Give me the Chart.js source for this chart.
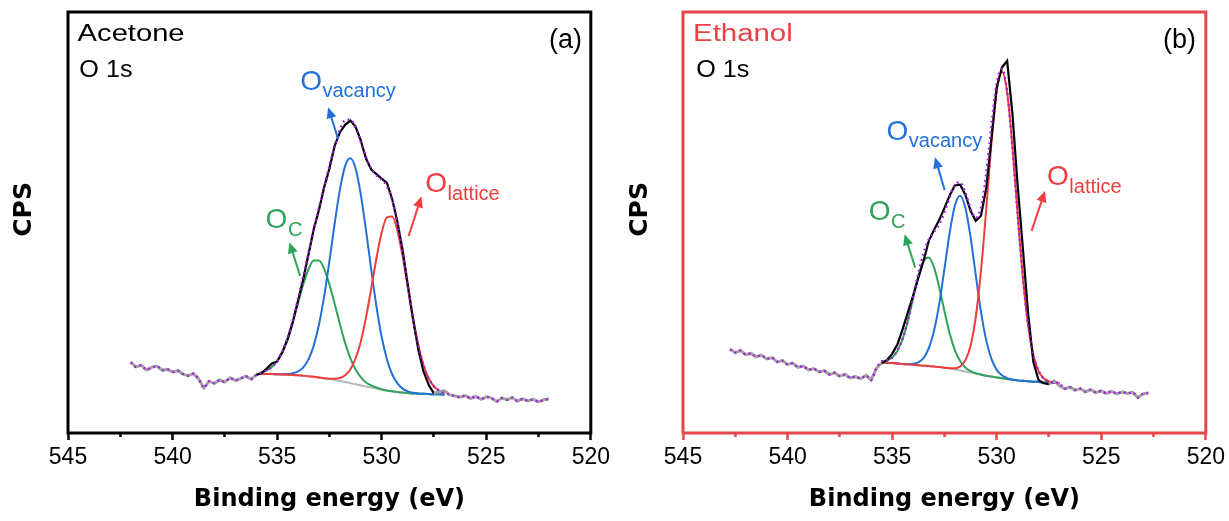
<!DOCTYPE html>
<html lang="en">
<head>
<meta charset="UTF-8">
<title>O 1s XPS - Acetone / Ethanol</title>
<script src="https://cdn.jsdelivr.net/npm/chart.js"></script>
<style>
    body { margin: 0; background: #fff; }
    .wrap { display: flex; width: 1229px; height: 521px; }
    .panel { position: relative; height: 521px; }
    #pa { width: 614px; }
    #pb { width: 615px; }
</style>
</head>
<body>
<div class="wrap">
    <div class="panel" id="pa"><canvas id="chartA"></canvas></div>
    <div class="panel" id="pb"><canvas id="chartB"></canvas></div>
</div>
<script>
// binding energy channels (eV) of the measured spectra
const energies = [
    542.75, 542.5, 542.25, 542, 541.75, 541.5, 541.25, 541, 540.75, 540.5,
    540.25, 540, 539.75, 539.5, 539.25, 539, 538.75, 538.5, 538.25, 538,
    537.75, 537.5, 537.25, 537, 536.75, 536.5, 536.25, 536, 535.75, 535.5,
    535.25, 535, 534.75, 534.5, 534.25, 534, 533.75, 533.5, 533.25, 533,
    532.75, 532.5, 532.25, 532, 531.75, 531.5, 531.25, 531, 530.75, 530.5,
    530.25, 530, 529.75, 529.5, 529.25, 529, 528.75, 528.5, 528.25, 528,
    527.75, 527.5, 527.25, 527, 526.75, 526.5, 526.25, 526, 525.75, 525.5,
    525.25, 525, 524.75, 524.5, 524.25, 524, 523.75, 523.5, 523.25, 523,
    522.75, 522.5, 522.25, 522
];
const majorTicks = [545, 540, 535, 530, 525, 520];

// (a) Acetone - raw counts (arb. units)
const rawA = [
    null, null, null, 16.8, 15.7, 16.1, 15.0, 15.6, 15.9, 14.9,
    15.1, 14.5, 14.8, 14.0, 13.6, 14.1, 12.8, 10.7, 12.3, 11.8,
    12.6, 12.1, 13.1, 12.5, 12.9, 13.5, 12.8, 13.8, 14.2, 15.3,
    16.5, 17.0, 19.2, 22.2, 26.4, 31.4, 36.6, 42.4, 48.4, 53.0,
    58.4, 62.8, 68.2, 71.4, 73.2, 74.2, 72.8, 69.5, 65.2, 62.6,
    61.5, 60.4, 59.4, 55.6, 50.2, 43.5, 35.2, 27.0, 19.8, 14.6,
    11.4, 9.4, 9.8, 10.0, 9.1, 8.8, 8.5, 8.9, 8.2, 8.7,
    8.0, 8.6, 8.3, 7.5, 8.3, 7.9, 8.4, 7.6, 8.1, 7.6,
    8.0, 7.4, 7.9, 8.1
];
// (a) fitted region
const fitEA = [
    535.75, 535.5, 535.25, 535, 534.75, 534.5, 534.25, 534, 533.75, 533.5,
    533.25, 533, 532.75, 532.5, 532.25, 532, 531.75, 531.5, 531.25, 531,
    530.75, 530.5, 530.25, 530, 529.75, 529.5, 529.25, 529, 528.75, 528.5,
    528.25, 528, 527.75, 527.5, 527.25, 527
];
const envA = [
    14.4, 14.9, 15.7, 17.1, 19.35, 22.6, 26.8, 31.8, 37.3, 42.9,
    48.35, 53.5, 58.5, 63.4, 68.1, 72.0, 74.3, 74.45, 72.5, 69.1,
    65.5, 62.8, 61.2, 60.2, 58.6, 55.45, 50.1, 42.95, 34.95, 27.3,
    20.9, 16.1, 12.95, 11.05, 10.05, 9.5
];
const bgA = [
    14.0, 14.0, 14.0, 13.95, 13.9, 13.85, 13.8, 13.7, 13.6, 13.5,
    13.35, 13.2, 13.0, 12.8, 12.6, 12.35, 12.1, 11.85, 11.6, 11.3,
    11.05, 10.8, 10.55, 10.3, 10.1, 9.9, 9.75, 9.6, 9.5, 9.4,
    9.35, 9.3, 9.25, 9.2, 9.2, 9.15
];
const ocA = [
    14.4, 14.9, 15.7, 17.1, 19.3, 22.4, 26.4, 30.9, 35.3, 38.9,
    41.0, 41.0, 39.0, 35.3, 30.7, 25.9, 21.4, 17.8, 15.1, 13.3,
    12.0, 11.3, 10.8, 10.4, 10.1, 9.9, 9.75, 9.6, 9.5, 9.4,
    9.35, 9.3, 9.25, 9.2, 9.2, 9.15
];
const ovacA = [
    14.0, 14.0, 14.0, 13.95, 13.95, 14.0, 14.2, 14.65, 15.6, 17.5,
    20.75, 25.7, 32.5, 40.8, 49.7, 57.75, 63.4, 65.25, 62.9, 56.7,
    48.15, 38.8, 30.05, 22.8, 17.5, 13.95, 11.8, 10.55, 9.9, 9.55,
    9.4, 9.3, 9.25, 9.2, 9.2, 9.15
];
const olatA = [
    14.0, 14.0, 14.0, 13.95, 13.9, 13.85, 13.8, 13.7, 13.6, 13.5,
    13.35, 13.2, 13.0, 12.9, 12.9, 13.05, 13.7, 15.1, 17.7, 21.7,
    27.4, 34.35, 41.5, 47.6, 51.2, 51.4, 48.1, 42.0, 34.5, 27.1,
    20.8, 16.1, 12.95, 11.05, 10.05, 9.5
];

// (b) Ethanol - raw counts (arb. units)
const rawB = [
    19.9, 19.1, 19.6, 18.6, 18.9, 18.1, 18.5, 17.6, 17.9, 16.9,
    17.2, 16.3, 16.6, 15.6, 15.9, 15.0, 15.3, 14.5, 14.8, 13.9,
    14.3, 13.5, 13.9, 13.1, 13.4, 12.9, 13.7, 12.6, 15.4, 16.6,
    17.3, 18.8, 21.0, 24.6, 28.6, 32.6, 36.8, 40.8, 45.6, 48.2,
    50.6, 53.4, 56.4, 58.8, 59.0, 56.6, 52.8, 50.4, 51.6, 58.2,
    70.0, 82.0, 86.8, 88.4, 76.0, 59.0, 44.0, 28.6, 17.0, 12.6,
    11.8, 11.6, 12.4, 11.2, 10.5, 10.9, 10.2, 10.5, 9.8, 10.3,
    9.6, 10.0, 9.4, 9.9, 9.3, 9.8, 9.4, 9.7, 8.4, 9.3,
    9.5, null, null, null
];
// (b) fitted region
const fitEB = [
    535.5, 535.25, 535, 534.75, 534.5, 534.25, 534, 533.75, 533.5, 533.25,
    533, 532.75, 532.5, 532.25, 532, 531.75, 531.5, 531.25, 531, 530.75,
    530.5, 530.25, 530, 529.75, 529.5, 529.25, 529, 528.75, 528.5, 528.25,
    528, 527.75, 527.5, 527.25, 527
];
const envB = [
    17.0, 17.25, 17.95, 19.55, 22.35, 26.65, 32.15, 37.85, 42.65, 45.9,
    47.8, 49.55, 52.4, 56.0, 58.9, 59.55, 57.1, 53.3, 51.1, 53.5,
    61.6, 73.1, 83.1, 86.5, 81.15, 68.2, 52.1, 37.1, 25.75, 18.6,
    14.75, 12.95, 12.25, 12.0, 11.85
];
const bgB = [
    16.8, 16.7, 16.6, 16.5, 16.4, 16.3, 16.2, 16.1, 16.0, 15.9,
    15.8, 15.65, 15.5, 15.3, 15.1, 14.85, 14.6, 14.35, 14.1, 13.85,
    13.6, 13.4, 13.2, 13.0, 12.8, 12.65, 12.5, 12.4, 12.3, 12.2,
    12.1, 12.0, 11.95, 11.9, 11.85
];
const ocB = [
    17.0, 17.25, 17.95, 19.5, 22.35, 26.6, 31.9, 37.15, 40.85, 41.7,
    39.4, 34.65, 29.0, 23.7, 19.7, 17.1, 15.55, 14.7, 14.2, 13.9,
    13.6, 13.4, 13.2, 13.0, 12.8, 12.65, 12.5, 12.4, 12.3, 12.2,
    12.1, 12.0, 11.95, 11.9, 11.85
];
const ovacB = [
    16.8, 16.7, 16.6, 16.5, 16.4, 16.35, 16.45, 16.8, 17.8, 20.1,
    24.2, 30.55, 38.9, 47.5, 54.0, 56.35, 53.5, 46.55, 37.5, 28.75,
    22.0, 17.6, 15.0, 13.7, 13.05, 12.7, 12.5, 12.4, 12.3, 12.2,
    12.1, 12.0, 11.95, 11.9, 11.85
];
const olatB = [
    16.8, 16.7, 16.6, 16.5, 16.4, 16.3, 16.2, 16.1, 16.0, 15.9,
    15.8, 15.65, 15.5, 15.4, 15.4, 15.8, 17.25, 20.75, 27.55, 38.55,
    53.2, 68.9, 81.3, 85.8, 80.9, 68.15, 52.1, 37.1, 25.75, 18.6,
    14.75, 12.95, 12.25, 12.0, 11.85
];

const BLUE = '#2270d8', GREEN = '#2ea35a', RED = '#f03c3c', PURPLE = '#a31ae0';
const GRAY = '#a2a2a2', FRAME_RED = '#e8464b';
const SANS = '"Liberation Sans", Arial, sans-serif';

Chart.defaults.color = '#000';
Chart.defaults.font.family = SANS;

function zip(xs, ys) {
    return xs.map((x, i) => ({ x: x, y: ys[i] })).filter(p => p.y !== null);
}

// the envelope follows the raw data outside the fitted window
function envelope(raw, fitE, env) {
    const pts = zip(energies, raw);
    const hi = fitE[0], lo = fitE[fitE.length - 1];
    return pts.filter(p => p.x > hi).concat(zip(fitE, env), pts.filter(p => p.x < lo));
}

function drawText(ctx, text, x, y, size, color, sx, align) {
    ctx.save();
    ctx.font = size + 'px ' + SANS;
    ctx.fillStyle = color;
    ctx.textAlign = align;
    ctx.textBaseline = 'alphabetic';
    ctx.translate(x, y);
    ctx.scale(sx, 1);
    ctx.fillText(text, 0, 0);
    ctx.restore();
}

function arrow(ctx, x1, y1, x2, y2, color) {
    const a = Math.atan2(y2 - y1, x2 - x1);
    const L = 11, W = 5;
    ctx.save();
    ctx.strokeStyle = color;
    ctx.fillStyle = color;
    ctx.lineWidth = 2;
    ctx.beginPath();
    ctx.moveTo(x1, y1);
    ctx.lineTo(x2 - L * 0.7 * Math.cos(a), y2 - L * 0.7 * Math.sin(a));
    ctx.stroke();
    ctx.beginPath();
    ctx.moveTo(x2, y2);
    ctx.lineTo(x2 - L * Math.cos(a) + W * Math.sin(a), y2 - L * Math.sin(a) - W * Math.cos(a));
    ctx.lineTo(x2 - L * Math.cos(a) - W * Math.sin(a), y2 - L * Math.sin(a) + W * Math.cos(a));
    ctx.closePath();
    ctx.fill();
    ctx.restore();
}

// frame, sample name, panel letter, peak labels and arrows
const decor = {
    id: 'decor',
    afterDraw(chart, args, o) {
        const { ctx, chartArea: a, scales } = chart;
        const px = v => scales.x.getPixelForValue(v);
        const py = v => scales.y.getPixelForValue(v);
        ctx.save();
        ctx.lineWidth = 3;
        ctx.strokeStyle = o.frame;
        ctx.strokeRect(a.left, a.top, a.right - a.left, a.bottom - a.top);
        ctx.restore();
        o.texts.forEach(t => drawText(ctx, t.text, px(t.x), py(t.y), t.size, t.color, t.sx || 1, t.align || 'left'));
        o.peaks.forEach(p => {
            const x0 = px(p.x), y0 = py(p.y);
            ctx.font = '28px ' + SANS;
            const w = ctx.measureText('O').width;
            drawText(ctx, 'O', x0, y0, 28, p.color, 1, 'left');
            drawText(ctx, p.sub, x0 + w + 0.5, y0 + 7.5, 20, p.color, 1, 'left');
            arrow(ctx, px(p.arrow[0]), py(p.arrow[1]), px(p.arrow[2]), py(p.arrow[3]), p.color);
        });
    }
};

function makeChart(id, d) {
    const inBlack = c => c.p1.parsed.x >= d.blackLo && c.p0.parsed.x <= d.blackHi;
    const comp = (data, color) => ({
        data: data, borderColor: color, borderWidth: 2,
        cubicInterpolationMode: 'monotone', pointRadius: 0, fill: false
    });
    return new Chart(document.getElementById(id), {
        type: 'line',
        data: {
            datasets: [
                {
                    data: envelope(d.raw, d.fitE, d.env), borderColor: PURPLE, borderWidth: 2.4,
                    borderDash: [1.8, 3.6], cubicInterpolationMode: 'monotone', pointRadius: 0, fill: false
                },
                {
                    data: zip(energies, d.raw), borderWidth: 2, tension: 0, pointRadius: 0, fill: false,
                    borderColor: GRAY,
                    segment: {
                        borderColor: c => inBlack(c) ? '#000' : GRAY,
                        borderWidth: c => inBlack(c) ? 2.2 : 3
                    }
                },
                comp(zip(d.fitE, d.olat), RED),
                comp(zip(d.fitE, d.ovac), BLUE),
                comp(zip(d.fitE, d.oc), GREEN),
                comp(zip(d.fitE, d.bg), '#b8b8b8')
            ]
        },
        options: {
            responsive: true,
            maintainAspectRatio: false,
            animation: false,
            layout: { autoPadding: false, padding: { top: 12, right: 21, bottom: 0, left: 0 } },
            plugins: {
                legend: { display: false },
                tooltip: { enabled: false },
                decor: { frame: d.frame, texts: d.texts, peaks: d.peaks }
            },
            scales: {
                x: {
                    type: 'linear', reverse: true, min: 520, max: 545,
                    ticks: {
                        stepSize: 2.5, autoSkip: false, maxRotation: 0, padding: 4,
                        color: '#000', font: { family: SANS, size: 23 },
                        callback: v => majorTicks.includes(v) ? String(v) : ''
                    },
                    grid: {
                        drawOnChartArea: false, drawTicks: true, tickLength: 7, tickWidth: 2.5,
                        tickColor: d.frame,
                        tickBorderDash: c => (c.tick && majorTicks.includes(c.tick.value)) ? [] : [4, 30]
                    },
                    border: { display: false },
                    title: {
                        display: true, text: 'Binding energy (eV)', color: '#000',
                        font: { family: '"DejaVu Sans", sans-serif', size: 24, weight: 'bold' },
                        padding: { top: 0, bottom: 7 }
                    },
                    afterFit: s => { s.height = 88; }
                },
                y: {
                    min: 0, max: 100,
                    ticks: { display: false },
                    grid: { display: false },
                    border: { display: false },
                    title: {
                        display: true, text: '   CPS', color: '#000',
                        font: { family: '"DejaVu Sans", sans-serif', size: 25, weight: 'bold' },
                        padding: { top: d.cpsPad, bottom: 0 }
                    },
                    afterFit: s => { s.width = d.yWidth; }
                }
            }
        },
        plugins: [decor]
    });
}

makeChart('chartA', {
    raw: rawA, fitE: fitEA, env: envA, bg: bgA, oc: ocA, ovac: ovacA, olat: olatA,
    blackLo: 527.5, blackHi: 536.0, frame: '#000', yWidth: 68, cpsPad: 9,
    texts: [
        { text: 'Acetone', x: 544.54, y: 93.2, size: 23.5, color: '#000', sx: 1.24 },
        { text: 'O 1s', x: 544.46, y: 84.5, size: 24, color: '#000', sx: 1.05 },
        { text: '(a)', x: 520.42, y: 91.5, size: 27, color: '#000', align: 'right' }
    ],
    peaks: [
        { sub: 'vacancy', x: 533.9, y: 81.5, color: BLUE, arrow: [532.08, 69.8, 532.56, 77.4] },
        { sub: 'C', x: 535.55, y: 48.6, color: GREEN, arrow: [533.9, 37.3, 534.41, 45.3] },
        { sub: 'lattice', x: 527.92, y: 57.2, color: RED, arrow: [528.71, 46.8, 528.1, 56.2] }
    ]
});

makeChart('chartB', {
    raw: rawB, fitE: fitEB, env: envB, bg: bgB, oc: ocB, ovac: ovacB, olat: olatB,
    blackLo: 527.5, blackHi: 535.5, frame: FRAME_RED, yWidth: 69, cpsPad: 11,
    texts: [
        { text: 'Ethanol', x: 544.52, y: 93.2, size: 23.5, color: '#eb4146', sx: 1.25 },
        { text: 'O 1s', x: 544.37, y: 84.5, size: 24, color: '#000', sx: 1.05 },
        { text: '(b)', x: 520.47, y: 91.5, size: 27, color: '#000', align: 'right' }
    ],
    peaks: [
        { sub: 'vacancy', x: 535.27, y: 69.6, color: BLUE, arrow: [532.49, 57.7, 532.95, 65.5] },
        { sub: 'C', x: 536.12, y: 50.5, color: GREEN, arrow: [533.9, 39.3, 534.4, 47.2] },
        { sub: 'lattice', x: 527.59, y: 58.8, color: RED, arrow: [528.33, 48.0, 527.69, 57.5] }
    ]
});
</script>
</body>
</html>
